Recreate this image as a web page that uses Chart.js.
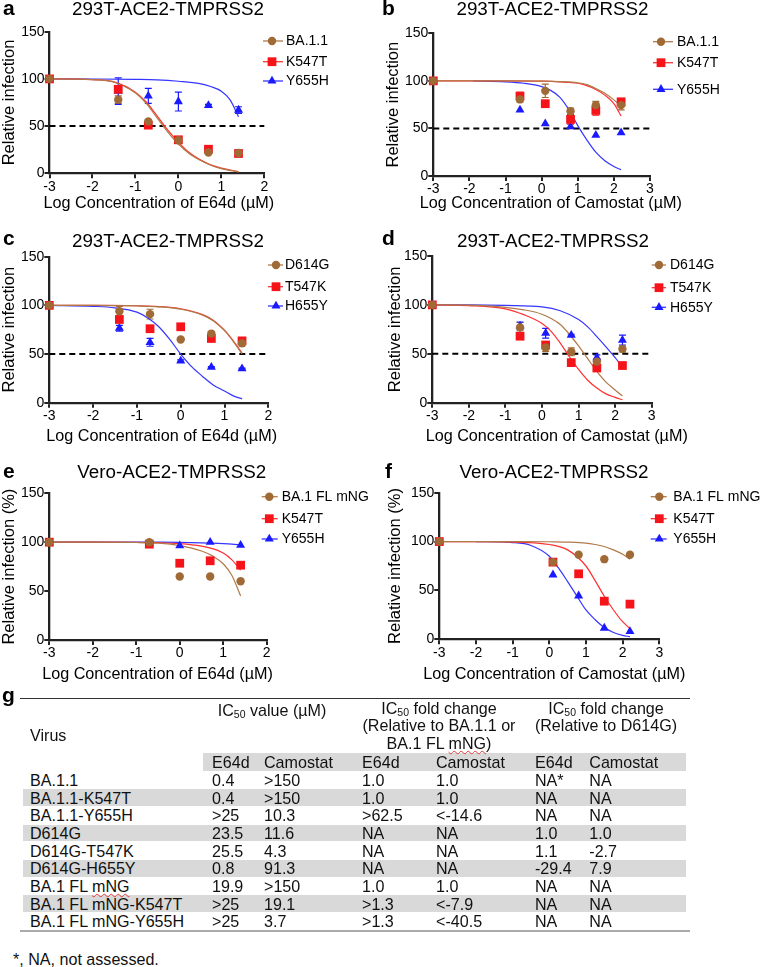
<!DOCTYPE html>
<html>
<head>
<meta charset="utf-8">
<script src="https://cdn.jsdelivr.net/npm/chart.js@4.4.0/dist/chart.umd.min.js"></script>
<style>
  body { margin: 0; background: #fff; width: 760px; height: 967px; position: relative; overflow: hidden;
         font-family: 'Liberation Sans', Arial, sans-serif; }
  canvas { position: absolute; }
  .t { position: absolute; white-space: nowrap; font-size: 16.1px; line-height: 18px; color: #111; }
  .c { transform: translateX(-50%); text-align: center; }
  .band { position: absolute; background: #d9d9d9; }
  .rule { position: absolute; }
  sub { font-size: 10.5px; vertical-align: -2px; line-height: 0; }
  .sq { text-decoration: underline wavy #e03a3a; text-decoration-thickness: 1px; text-underline-offset: 1px; }
</style>
</head>
<body>
<script>
// x positions (log10 µM)
const xE64d = [-3, -1.4, -0.7, 0, 0.7, 1.4];
const xCamo = [-3, -0.6, 0.1, 0.8, 1.5, 2.2];
const xE64dVero = [-3, -0.7, 0, 0.7, 1.4];
const xCamoVero = [-3, 0.1, 0.8, 1.5, 2.2];

// panel a : 293T, E64d
const aBA11 = [100, 78, 55, 35, 22, 21.5];
const aBA11Err = [0, 4, 2, 2, 1.5, 1.5];
const aK547T = [100, 89, 51, 35.5, 25.5, 21];
const aK547TErr = [0, 3, 1.5, 2.5, 1.5, 1];
const aY655H = [100, 87, 82, 76, 72, 67];
const aY655HErr = [0, 14, 8, 10, 1, 3.5];
const aFitX = [-3, -2.5, -2, -1.5, -1, -0.75, -0.5, -0.25, 0, 0.25, 0.5, 0.75, 1, 1.4];
const aFitBA11 = [100, 99.8, 99.2, 96.5, 85, 74, 59, 44, 31, 21, 14, 8.5, 5, 1.5];
const aFitK547T = [100, 99.8, 99.3, 97, 86, 75.5, 61, 46, 33, 22, 14.5, 9, 5.5, 1.8];
const aFitYX = [-3, -2, -1, -0.5, 0, 0.5, 0.75, 1, 1.2, 1.4];
const aFitY655H = [100, 99.9, 99.5, 99, 97.5, 95, 92, 87, 78, 60];

// panel b : 293T, Camostat
const bBA11 = [100, 80.5, 89.5, 68, 74.5, 74.5];
const bBA11Err = [0, 3, 7, 3.5, 4, 5];
const bK547T = [100, 84, 76, 59.5, 69, 78];
const bK547TErr = [0, 4, 1.5, 5, 5, 3];
const bY655H = [100, 69.5, 55, 52, 43, 45.5];
const bY655HErr = [0, 0, 0, 0, 0, 0];
const bFitX = [-3, -2, -1, 0, 0.5, 1, 1.25, 1.5, 1.75, 2, 2.2];
const bFitBA11 = [100, 100, 100, 99.8, 99.3, 98, 96, 92, 87, 80, 73];
const bFitK547T = [100, 100, 100, 99.7, 99, 97.5, 95, 91, 85, 76, 63];
const bFitYX = [-1.9, -1, -0.5, 0, 0.25, 0.5, 0.75, 1, 1.25, 1.5, 1.75, 2, 2.2];
const bFitY655H = [100, 99, 97.5, 94, 90, 83, 70, 53, 38, 25, 16, 10, 6.5];

// panel c : 293T, E64d, D614G background
const cD614G = [100, 94, 91, 65, 71, 61];
const cD614GErr = [0, 5, 5, 1, 1.5, 3];
const cT547K = [100, 85.5, 76, 78, 66, 63.5];
const cT547KErr = [0, 2, 1, 1, 1.5, 1.5];
const cH655Y = [100, 76.5, 62, 43, 36.5, 35];
const cH655YErr = [0, 3, 4, 1, 0.5, 0.5];
const cFitX = [-3, -2, -1, -0.5, 0, 0.5, 0.75, 1, 1.2, 1.4];
const cFitD614G = [100, 100, 99.5, 98.5, 96, 90, 84, 74, 63, 50];
const cFitT547K = [100, 100, 99.6, 98.8, 96.5, 90.5, 84.5, 74.5, 63.5, 51];
const cFitHX = [-3, -2, -1.5, -1, -0.75, -0.5, -0.25, 0, 0.25, 0.5, 0.75, 1, 1.2, 1.4];
const cFitH655Y = [100, 99, 97.5, 93, 87, 78, 65, 50, 37, 27, 18, 12, 7, 4];

// panel d : 293T, Camostat, D614G background
const dD614G = [100, 77, 56.5, 52, 42, 55];
const dD614GErr = [0, 5, 4, 4, 3, 3];
const dT547K = [100, 68, 59, 41, 35.5, 38];
const dT547KErr = [0, 1.5, 1.5, 1, 1, 1];
const dH655Y = [100, 78.5, 71, 69, 46, 64];
const dH655YErr = [0, 4, 5, 1, 3, 5];
const dFitX = [-3, -2, -1, -0.5, 0, 0.25, 0.5, 0.75, 1, 1.25, 1.5, 1.75, 2, 2.2];
const dFitD614G = [100, 99.8, 97.5, 95, 90.5, 86, 80, 70, 58, 45, 32, 21, 13, 7];
const dFitT547K = [100, 99.3, 96, 90, 81, 73, 61, 47, 34, 23, 15, 9, 5.5, 3];
const dFitHX = [-3, -2, -1, 0, 0.5, 1, 1.25, 1.5, 1.75, 2, 2.15];
const dFitH655Y = [100, 100, 99.5, 98, 94, 85, 77.5, 67.5, 57, 46, 39];

// panel e : Vero, E64d
const eBA1 = [100, 100, 65, 65, 60];
const eK547T = [100, 98, 78.5, 81, 76.5];
const eY655H = [100, 99, 96.5, 100, 97];
const eFitX = [-3, -2, -1, -0.5, 0, 0.5, 0.75, 1, 1.2, 1.4];
const eFitBA1 = [100, 100, 99.7, 99, 96.5, 91, 86, 78, 66, 45];
const eFitK547T = [100, 100, 99.9, 99.5, 98.5, 96, 93.5, 89, 82, 71.5];
const eFitY655H = [100, 100, 100, 100, 99.8, 99.4, 99, 98.5, 98, 97.3];

// panel f : Vero, Camostat
const fBA1 = [100, 79, 86.5, 82, 86.5];
const fK547T = [100, 79, 67, 39, 36];
const fY655H = [100, 66, 44.5, 11.5, 8];
const fFitX = [-3, -2, -1, 0, 0.5, 1, 1.25, 1.5, 1.75, 2, 2.2];
const fFitBA1 = [100, 100, 100, 99.8, 99.5, 98.5, 97, 95, 91.5, 87, 82];
const fFitK547T = [100, 100, 99.5, 97, 91.5, 75, 60, 44, 30, 18, 11];
const fFitYX = [-2, -1, -0.5, 0, 0.25, 0.5, 0.75, 1, 1.25, 1.5, 1.75, 2, 2.2];
const fFitY655H = [100, 99, 96, 85, 73, 59, 44.5, 30, 20, 12, 7, 4, 2.7];

const yTicks = [0, 50, 100, 150];
const halfLine = 50;

// table g
const tblVirus = ['BA.1.1', 'BA.1.1-K547T', 'BA.1.1-Y655H', 'D614G', 'D614G-T547K', 'D614G-H655Y',
                  'BA.1 FL mNG', 'BA.1 FL mNG-K547T', 'BA.1 FL mNG-Y655H'];
const tblIcE64d = ['0.4', '0.4', '>25', '23.5', '25.5', '0.8', '19.9', '>25', '>25'];
const tblIcCamo = ['>150', '>150', '10.3', '11.6', '4.3', '91.3', '>150', '19.1', '3.7'];
const tblFoldBaE64d = ['1.0', '1.0', '>62.5', 'NA', 'NA', 'NA', '1.0', '>1.3', '>1.3'];
const tblFoldBaCamo = ['1.0', '1.0', '<-14.6', 'NA', 'NA', 'NA', '1.0', '<-7.9', '<-40.5'];
const tblFoldDE64d = ['NA*', 'NA', 'NA', '1.0', '1.1', '-29.4', 'NA', 'NA', 'NA'];
const tblFoldDCamo = ['NA', 'NA', 'NA', '1.0', '-2.7', '7.9', 'NA', 'NA', 'NA'];

// ---------------------------------------------------------------
const FONT = "'Liberation Sans', Arial, sans-serif";
Chart.defaults.font.family = FONT;
Chart.defaults.color = '#000';
const AXIS = '#222';

// marker / line styles per series kind (brown circle, red square, blue triangle)
const KINDS = [
  { point: 'circle',   radius: 4.2, fill: '#a06a36', line: '#b07a48' },
  { point: 'rect',     radius: 6.2, fill: '#f5141a', line: '#ff3030' },
  { point: 'triangle', radius: 5.2, fill: '#1a1aff', line: '#3535ff' }
];

function drawMarker(ctx, kind, x, y) {
  const k = KINDS[kind];
  const r = k.radius;
  ctx.fillStyle = k.fill;
  ctx.beginPath();
  if (k.point === 'circle') {
    ctx.arc(x, y, r, 0, Math.PI * 2);
  } else if (k.point === 'rect') {
    const s = r * Math.SQRT1_2;
    ctx.rect(x - s, y - s, 2 * s, 2 * s);
  } else {
    let a = 0;
    ctx.moveTo(x + Math.sin(a) * r, y - Math.cos(a) * r);
    a += Math.PI * 2 / 3;
    ctx.lineTo(x + Math.sin(a) * r, y - Math.cos(a) * r);
    a += Math.PI * 2 / 3;
    ctx.lineTo(x + Math.sin(a) * r, y - Math.cos(a) * r);
    ctx.closePath();
  }
  ctx.fill();
}

// error bars (drawn under the markers)
const errorBars = {
  id: 'errorBars',
  beforeDatasetsDraw(chart) {
    const { ctx, scales: { x, y } } = chart;
    chart.data.datasets.forEach(ds => {
      if (!ds.errors) return;
      ctx.save();
      ctx.strokeStyle = ds.backgroundColor;
      ctx.lineWidth = 1.2;
      ds.data.forEach((p, j) => {
        const e = ds.errors[j];
        if (!e) return;
        const px = x.getPixelForValue(p.x);
        const top = y.getPixelForValue(p.y + e);
        const bot = y.getPixelForValue(p.y - e);
        ctx.beginPath();
        ctx.moveTo(px, top); ctx.lineTo(px, bot);
        ctx.moveTo(px - 3.5, top); ctx.lineTo(px + 3.5, top);
        ctx.moveTo(px - 3.5, bot); ctx.lineTo(px + 3.5, bot);
        ctx.stroke();
      });
      ctx.restore();
    });
  }
};

// panel letter, title, x-axis title (may be wider than the plot) and the legend
const panelDeco = {
  id: 'panelDeco',
  afterDraw(chart, args, o) {
    const ctx = chart.ctx;
    ctx.save();
    ctx.fillStyle = '#000';
    ctx.textBaseline = 'alphabetic';
    ctx.textAlign = 'left';
    ctx.font = 'bold 21px ' + FONT;
    ctx.fillText(o.letter, o.letterX, o.letterY);
    ctx.font = '18.8px ' + FONT;
    ctx.textAlign = 'center';
    ctx.fillText(o.title, o.titleX, o.titleY);

    ctx.font = '16.2px ' + FONT;
    ctx.textBaseline = 'middle';
    ctx.fillText(o.xTitle, o.xTitleX, o.xTitleY);

    ctx.font = '14px ' + FONT;
    ctx.textAlign = 'left';
    o.items.forEach((it, i) => {
      const yy = o.rows[i];
      ctx.strokeStyle = KINDS[it.kind].line;
      ctx.lineWidth = 1.3;
      ctx.beginPath();
      ctx.moveTo(o.x0, yy); ctx.lineTo(o.x1, yy);
      ctx.stroke();
      drawMarker(ctx, it.kind, o.mx, yy);
      ctx.fillStyle = '#000';
      ctx.fillText(it.name, o.tx, yy + 0.5);
    });
    ctx.restore();
  }
};

function pts(xs, ys) { return xs.map((x, i) => ({ x: x, y: ys[i] })); }

function makePanel(p) {
  const b = p.box, a = p.area;
  const cv = document.createElement('canvas');
  cv.width = b.w; cv.height = b.h;
  cv.style.left = b.x + 'px'; cv.style.top = b.y + 'px';
  document.body.appendChild(cv);

  const yW = a.l - b.x;
  const xH = b.y + b.h - a.b;
  const yTitleSize = 16.5;

  const datasets = [];
  p.series.forEach(s => {
    const k = KINDS[s.kind];
    datasets.push({
      label: s.name, data: pts(s.x, s.y), errors: s.err || null,
      showLine: false, pointStyle: k.point, pointRadius: k.radius, pointHoverRadius: k.radius,
      backgroundColor: k.fill, borderColor: k.fill, pointBorderWidth: 0, clip: false
    });
  });
  p.series.forEach(s => {
    const k = KINDS[s.kind];
    datasets.push({
      label: s.name + ' fit', data: pts(s.fitX, s.fitY), showLine: true,
      pointRadius: 0, borderColor: k.line, borderWidth: 1.2,
      cubicInterpolationMode: 'monotone', fill: false, clip: false
    });
  });
  if (p.dashed) {
    datasets.push({
      label: 'IC50', data: pts([p.xMin, p.xMax], [halfLine, halfLine]), showLine: true,
      pointRadius: 0, borderColor: '#000', borderWidth: 2, borderDash: [6, 4], clip: false
    });
  }

  new Chart(cv, {
    type: 'scatter',
    data: { datasets },
    options: {
      responsive: false, animation: false, events: [],
      layout: { padding: { left: 0, top: a.t - b.y, right: b.x + b.w - a.r, bottom: 0 } },
      plugins: {
        legend: { display: false }, tooltip: { enabled: false },
        panelDeco: {
          letter: p.letter, letterX: p.letterXY[0] - b.x, letterY: p.letterXY[1] - b.y,
          title: p.title, titleX: p.titleXY[0] - b.x, titleY: p.titleXY[1] - b.y,
          xTitle: p.xTitle, xTitleX: p.xTitleXY[0] - b.x, xTitleY: p.xTitleXY[1] - b.y,
          x0: p.legend.x0 - b.x, x1: p.legend.x1 - b.x, mx: p.legend.mx - b.x, tx: p.legend.tx - b.x,
          rows: p.legend.rows.map(r => r - b.y),
          items: p.series.map(s => ({ name: s.name, kind: s.kind }))
        }
      },
      scales: {
        x: {
          type: 'linear', min: p.xMin, max: p.xMax,
          afterFit: s => { s.height = xH; },
          ticks: { stepSize: 1, autoSkip: false, maxRotation: 0, padding: 0, font: { size: 14 }, color: '#000' },
          grid: { drawOnChartArea: false, drawTicks: true, tickLength: 5, color: AXIS, lineWidth: 2 },
          border: { color: AXIS, width: 2.3 },
          title: { display: false }
        },
        y: {
          min: yTicks[0], max: yTicks[yTicks.length - 1],
          afterFit: s => { s.width = yW; },
          afterBuildTicks: s => { s.ticks = yTicks.map(v => ({ value: v })); },
          ticks: { autoSkip: false, padding: 0, font: { size: 14 }, color: '#000' },
          grid: { drawOnChartArea: false, drawTicks: true, tickLength: 5, color: AXIS, lineWidth: 2 },
          border: { color: AXIS, width: 2.3 },
          title: { display: true, text: p.yTitle, color: '#000', font: { size: yTitleSize, lineHeight: 1 },
                   padding: { top: p.yTitleX - b.x - yTitleSize / 2, bottom: 0 } }
        }
      }
    },
    plugins: [errorBars, panelDeco]
  });
}

const T293 = '293T-ACE2-TMPRSS2', TVERO = 'Vero-ACE2-TMPRSS2';
const XE = 'Log Concentration of E64d (µM)', XC = 'Log Concentration of Camostat (µM)';

makePanel({
  letter: 'a', letterXY: [3, 15], title: T293, titleXY: [168, 15],
  box: { x: 0, y: 0, w: 380, h: 214 }, area: { l: 49.5, t: 31.7, r: 264.3, b: 173.3 },
  xMin: -3, xMax: 2, xTitle: XE, xTitleXY: [158.8, 204], yTitle: 'Relative infection', yTitleX: 9, dashed: true,
  legend: { x0: 263, x1: 283, mx: 272, tx: 286, rows: [41, 61.7, 81] },
  series: [
    { name: 'BA.1.1', kind: 0, x: xE64d, y: aBA11, err: aBA11Err, fitX: aFitX, fitY: aFitBA11 },
    { name: 'K547T', kind: 1, x: xE64d, y: aK547T, err: aK547TErr, fitX: aFitX, fitY: aFitK547T },
    { name: 'Y655H', kind: 2, x: xE64d, y: aY655H, err: aY655HErr, fitX: aFitYX, fitY: aFitY655H }
  ]
});
makePanel({
  letter: 'b', letterXY: [382, 15], title: T293, titleXY: [552.5, 15],
  box: { x: 380, y: 0, w: 380, h: 214 }, area: { l: 433.3, t: 33.3, r: 650, b: 176 },
  xMin: -3, xMax: 3, xTitle: XC, xTitleXY: [550.8, 204], yTitle: 'Relative infection', yTitleX: 393.5, dashed: true,
  legend: { x0: 653, x1: 673, mx: 661, tx: 677, rows: [41.7, 62.7, 89.3] },
  series: [
    { name: 'BA.1.1', kind: 0, x: xCamo, y: bBA11, err: bBA11Err, fitX: bFitX, fitY: bFitBA11 },
    { name: 'K547T', kind: 1, x: xCamo, y: bK547T, err: bK547TErr, fitX: bFitX, fitY: bFitK547T },
    { name: 'Y655H', kind: 2, x: xCamo, y: bY655H, err: bY655HErr, fitX: bFitYX, fitY: bFitY655H }
  ]
});
makePanel({
  letter: 'c', letterXY: [3, 245], title: T293, titleXY: [168, 246.7],
  box: { x: 0, y: 218, w: 380, h: 228 }, area: { l: 49.3, t: 256.7, r: 268.3, b: 402.7 },
  xMin: -3, xMax: 2, xTitle: XE, xTitleXY: [161.7, 437], yTitle: 'Relative infection', yTitleX: 9, dashed: true,
  legend: { x0: 268, x1: 283, mx: 276, tx: 285, rows: [265, 286.7, 306] },
  series: [
    { name: 'D614G', kind: 0, x: xE64d, y: cD614G, err: cD614GErr, fitX: cFitX, fitY: cFitD614G },
    { name: 'T547K', kind: 1, x: xE64d, y: cT547K, err: cT547KErr, fitX: cFitX, fitY: cFitT547K },
    { name: 'H655Y', kind: 2, x: xE64d, y: cH655Y, err: cH655YErr, fitX: cFitHX, fitY: cFitH655Y }
  ]
});
makePanel({
  letter: 'd', letterXY: [382, 245], title: T293, titleXY: [553, 246.7],
  box: { x: 380, y: 218, w: 380, h: 228 }, area: { l: 432.3, t: 256, r: 651.7, b: 402.7 },
  xMin: -3, xMax: 3, xTitle: XC, xTitleXY: [556.7, 437], yTitle: 'Relative infection', yTitleX: 395, dashed: true,
  legend: { x0: 651.7, x1: 666, mx: 659, tx: 670, rows: [265, 287.7, 307.3] },
  series: [
    { name: 'D614G', kind: 0, x: xCamo, y: dD614G, err: dD614GErr, fitX: dFitX, fitY: dFitD614G },
    { name: 'T547K', kind: 1, x: xCamo, y: dT547K, err: dT547KErr, fitX: dFitX, fitY: dFitT547K },
    { name: 'H655Y', kind: 2, x: xCamo, y: dH655Y, err: dH655YErr, fitX: dFitHX, fitY: dFitH655Y }
  ]
});
makePanel({
  letter: 'e', letterXY: [3, 478], title: TVERO, titleXY: [171.7, 478.3],
  box: { x: 0, y: 448, w: 380, h: 236 }, area: { l: 49.3, t: 493.3, r: 266.7, b: 640 },
  xMin: -3, xMax: 2, xTitle: XE, xTitleXY: [157.5, 675], yTitle: 'Relative infection (%)', yTitleX: 9, dashed: false,
  legend: { x0: 261.7, x1: 277.7, mx: 269.3, tx: 281.7, rows: [496.7, 518.7, 539] },
  series: [
    { name: 'BA.1 FL mNG', kind: 0, x: xE64dVero, y: eBA1, fitX: eFitX, fitY: eFitBA1 },
    { name: 'K547T', kind: 1, x: xE64dVero, y: eK547T, fitX: eFitX, fitY: eFitK547T },
    { name: 'Y655H', kind: 2, x: xE64dVero, y: eY655H, fitX: eFitX, fitY: eFitY655H }
  ]
});
makePanel({
  letter: 'f', letterXY: [385, 478], title: TVERO, titleXY: [554, 478.3],
  box: { x: 380, y: 448, w: 380, h: 236 }, area: { l: 439.3, t: 492.7, r: 659.3, b: 639.3 },
  xMin: -3, xMax: 3, xTitle: XC, xTitleXY: [554.3, 675], yTitle: 'Relative infection (%)', yTitleX: 395, dashed: false,
  legend: { x0: 650.7, x1: 666.7, mx: 659.3, tx: 673.3, rows: [496.7, 518.7, 539] },
  series: [
    { name: 'BA.1 FL mNG', kind: 0, x: xCamoVero, y: fBA1, fitX: fFitX, fitY: fFitBA1 },
    { name: 'K547T', kind: 1, x: xCamoVero, y: fK547T, fitX: fFitX, fitY: fFitK547T },
    { name: 'Y655H', kind: 2, x: xCamoVero, y: fY655H, fitX: fFitYX, fitY: fFitY655H }
  ]
});

// ---------------- table g ----------------
function el(cls, html, x, yc, center) {
  const d = document.createElement('div');
  d.className = cls + (center ? ' c' : '');
  d.innerHTML = html;
  d.style.left = x + 'px';
  d.style.top = (yc - 9) + 'px';
  document.body.appendChild(d);
  return d;
}
function box(cls, x, y, w, h, bg) {
  const d = document.createElement('div');
  d.className = cls;
  Object.assign(d.style, { left: x + 'px', top: y + 'px', width: w + 'px', height: h + 'px' });
  if (bg) d.style.background = bg;
  document.body.appendChild(d);
}
const esc = s => s.replace(/&/g, '&amp;').replace(/</g, '&lt;').replace(/>/g, '&gt;');
const mng = s => esc(s).replace('mNG', '<span class="sq">mNG</span>');

const colX = [30, 212, 264, 362, 436, 535, 589.3];
const rowY0 = 780, rowH = 17.67;

box('rule', 20, 697.8, 670, 1, '#333');
box('band', 203.3, 753.3, 482.7, 17.7);
tblVirus.forEach((v, i) => { if (i % 2 === 1) box('band', 22.7, rowY0 + i * rowH - 8.4, 663.3, 16.8); });
box('rule', 20, 930, 670, 1.5, '#aaa');

const g = el('t', 'g', 2, 695);
g.style.fontWeight = 'bold'; g.style.fontSize = '21px'; g.style.color = '#000';

el('t', 'IC<sub>50</sub> value (µM)', 272, 710, true);
el('t', 'Virus', 30, 735);
el('t', 'IC<sub>50</sub> fold change', 439, 707.7, true);
el('t', '(Relative to BA.1.1 or', 439, 725, true);
el('t', 'BA.1 FL <span class="sq">mNG</span>)', 439, 743.3, true);
el('t', 'IC<sub>50</sub> fold change', 606, 707.7, true);
el('t', '(Relative to D614G)', 606, 725, true);
['E64d', 'Camostat', 'E64d', 'Camostat', 'E64d', 'Camostat'].forEach((h, j) => el('t', h, colX[j + 1], 762));

const cols = [tblVirus, tblIcE64d, tblIcCamo, tblFoldBaE64d, tblFoldBaCamo, tblFoldDE64d, tblFoldDCamo];
tblVirus.forEach((v, i) => {
  cols.forEach((col, j) => {
    const html = (j === 0 && v === 'BA.1 FL mNG') ? mng(col[i]) : esc(col[i]);
    el('t', html, colX[j], rowY0 + i * rowH);
  });
});
el('t', '*, NA, not assessed.', 13, 959);
</script>
</body>
</html>
